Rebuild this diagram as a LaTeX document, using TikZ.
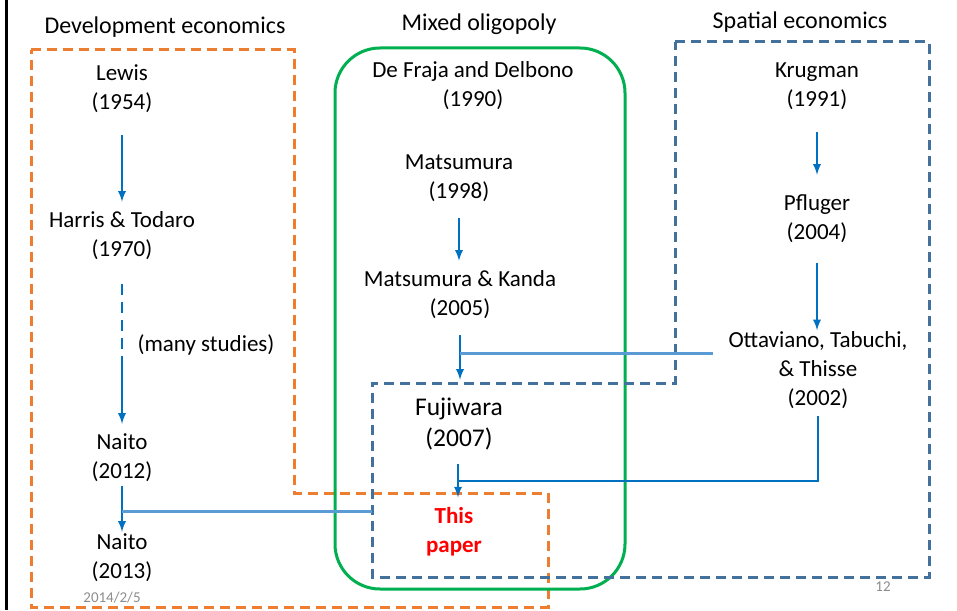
\documentclass[tikz,border=0pt]{standalone}
\usepackage{fontspec}
\setmainfont{Carlito}
\usetikzlibrary{arrows}
\definecolor{devorange}{HTML}{ED7D31}
\definecolor{mixgreen}{HTML}{00B050}
\definecolor{spablue}{HTML}{41719C}
\definecolor{arrblue}{HTML}{0070C0}
\definecolor{linkblue}{HTML}{5B9BD5}
\definecolor{footgray}{HTML}{8C8C8C}
\tikzset{
	paper/.style={align=center, inner sep=0pt, font=\fontsize{23}{29}\selectfont},
	field/.style={inner sep=0pt, font=\fontsize{24}{29}\selectfont},
	foot/.style={inner sep=0pt, text=footgray, font=\fontsize{15}{18}\selectfont},
	arr/.style={draw=arrblue, line width=2.6pt, -latex},
	link/.style={draw=linkblue, line width=3pt},
	frame/.style={line width=3pt, dash pattern=on 10pt off 6pt}
}

\begin{document}
\begin{tikzpicture}[x=1pt,y=-1pt]
				\useasboundingbox (0,0) rectangle (957,610);
				\draw[line width=3pt] (6,0) -- (6,610);
				% fields
				\node[field] (dev) at (165,27) {Development economics};
				\node[field] (mix) at (479,24) {Mixed oligopoly};
				\node[field] (spa) at (800,22) {Spatial economics};
				\draw[frame, devorange] (31,50) -- (294,50) -- (294,493) -- (548,493) -- (548,607) -- (31,607) -- cycle;
				\draw[mixgreen, line width=3pt, rounded corners=45pt] (335,48) rectangle (625,589);
				\draw[frame, spablue] (675,42) -- (929,42) -- (929,577) -- (372,577) coordinate (sp) -- (372,383) -- (675,383) -- cycle;
				% papers
				\node[paper] (lewis) at (122,89) {Lewis\\(1954)};
				\node[paper] (harris) at (122,236) {Harris \& Todaro\\(1970)};
				\node[paper] (many) at (206,345) {(many studies)};
				\node[paper] (naito12) at (122,458) {Naito\\(2012)};
				\node[paper] (naito13) at (122,558) {Naito\\(2013)};
				\node[paper] (fraja) at (473,86) {De Fraja and Delbono\\(1990)};
				\node[paper] (mats98) at (459,178) {Matsumura\\(1998)};
				\node[paper] (mats05) at (460,295) {Matsumura \& Kanda\\(2005)};
				\node[paper, font=\fontsize{25.5}{31}\selectfont] (fuji) at (459,424) {Fujiwara\\(2007)};
				\node[paper, text=red, font=\fontsize{23}{29}\selectfont\bfseries] (this) at (454,532) {This\\paper};
				\node[paper] (krug) at (817,86) {Krugman\\(1991)};
				\node[paper] (pflug) at (817,219) {Pfluger\\(2004)};
				\node[paper] (ott) at (818,370) {Ottaviano, Tabuchi,\\\& Thisse\\(2002)};
				\node[foot] (date) at (112,598) {2014/2/5};
				\node[foot] (num) at (883,587) {12};
				% links
				\coordinate (hmid) at (122,367);
				\coordinate (j1) at (460,353);
				\coordinate (j2) at (458,481);
				\coordinate (j3) at (122,511);
				\draw[arr, shorten <=22pt, shorten >=10pt] (lewis) -- (harris);
				\draw[arrblue, line width=2.6pt, dash pattern=on 11pt off 7pt, shorten <=24pt] (harris) -- (hmid);
				\draw[arr, shorten >=10pt] (hmid) -- (naito12);
				\draw[arr, shorten <=4pt, shorten >=2pt] (naito12) -- (naito13);
				\draw[link] (j3) -- (j3 -| sp);
				\draw[arr, shorten <=16pt, shorten >=10pt] (mats98) -- (mats98 |- mats05.north);
				\draw[arr, shorten <=16pt, shorten >=18pt] (mats05) -- (mats05 |- fuji.north);
				\draw[link, shorten >=15pt] (j1) -- (j1 -| ott.west);
				\draw[arr, shorten <=14pt, shorten >=10pt] (fuji.south -| j2) -- (j2 |- this.north);
				\draw[arrblue, line width=2.6pt, shorten <=7pt] (ott.south) |- (j2);
				\draw[arr, shorten <=22pt, shorten >=20pt] (krug) -- (pflug);
				\draw[arr, shorten <=20pt, shorten >=1pt] (pflug) -- (pflug |- ott.north);
			\end{tikzpicture}
\end{document}
